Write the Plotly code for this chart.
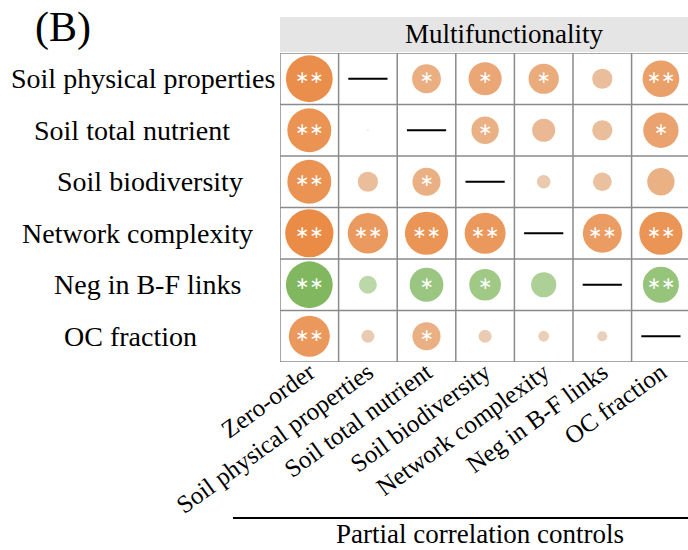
import plotly.graph_objects as go

# ---------------- data ----------------
rows = ["Soil physical properties", "Soil total nutrient", "Soil biodiversity",
        "Network complexity", "Neg in B-F links", "OC fraction"]
controls = ["Zero-order", "Soil physical properties", "Soil total nutrient",
            "Soil biodiversity", "Network complexity", "Neg in B-F links", "OC fraction"]

# correlation with multifunctionality (None = the variable itself is controlled)
r_soil_physical = [0.65, None, 0.40, 0.46, 0.42, 0.28, 0.51]
r_soil_nutrient = [0.61, 0.02, None, 0.38, 0.32, 0.28, 0.49]
r_soil_biodiv   = [0.61, 0.28, 0.39, None, 0.19, 0.26, 0.38]
r_network       = [0.67, 0.56, 0.60, 0.57, None, 0.54, 0.60]
r_neg_bf        = [-0.65, -0.25, -0.47, -0.44, -0.35, None, -0.50]
r_oc_fraction   = [0.57, 0.18, 0.39, 0.18, 0.15, 0.14, None]

sig_soil_physical = ["**", "", "*", "*", "*", "", "**"]
sig_soil_nutrient = ["**", "", "", "*", "", "", "*"]
sig_soil_biodiv   = ["**", "", "*", "", "", "", ""]
sig_network       = ["**", "**", "**", "**", "", "**", "**"]
sig_neg_bf        = ["**", "", "*", "*", "", "", "**"]
sig_oc_fraction   = ["**", "", "*", "", "", "", ""]

r_table = [r_soil_physical, r_soil_nutrient, r_soil_biodiv, r_network, r_neg_bf, r_oc_fraction]
sig_table = [sig_soil_physical, sig_soil_nutrient, sig_soil_biodiv, sig_network, sig_neg_bf, sig_oc_fraction]

# ---------------- styling ----------------
FONT = "Liberation Serif"
SIZE_SCALE = 72  # px diameter per unit |r|
POS_LIGHT, POS_DARK = (234, 212, 194), (234, 136, 64)
NEG_LIGHT, NEG_DARK = (209, 229, 197), (122, 179, 86)


def mix(c0, c1, t):
    t = max(0.0, min(1.0, t))
    return "rgb(%d,%d,%d)" % tuple(round(a + (b - a) * t) for a, b in zip(c0, c1))


def color_for(r):
    t = (abs(r) - 0.1) / 0.6
    return mix(POS_LIGHT, POS_DARK, t) if r >= 0 else mix(NEG_LIGHT, NEG_DARK, t)


cx, cy, sizes, colors = [], [], [], []
sx, sy, stext = [], [], []
dx, dy = [], []
for i, row in enumerate(r_table):
    for j, r in enumerate(row):
        if r is None:
            dx.append(j)
            dy.append(i)
            continue
        cx.append(j)
        cy.append(i)
        sizes.append(abs(r) * SIZE_SCALE)
        colors.append(color_for(r))
        s = sig_table[i][j]
        if s:
            sx.append(j)
            sy.append(i)
            stext.append("\u2217" * len(s))

fig = go.Figure()
fig.add_trace(go.Scatter(x=cx, y=cy, mode="markers",
                         marker=dict(size=sizes, color=colors, line=dict(width=0), opacity=1),
                         hoverinfo="skip", showlegend=False))
fig.add_trace(go.Scatter(x=sx, y=sy, mode="text", text=stext,
                         textfont=dict(family="DejaVu Sans", size=17, color="white"),
                         textposition="middle center", hoverinfo="skip", showlegend=False))
fig.add_trace(go.Scatter(x=dx, y=dy, mode="markers",
                         marker=dict(symbol="line-ew", size=28, line=dict(width=2.2, color="black")),
                         hoverinfo="skip", showlegend=False))

# ---------------- layout ----------------
W, H = 688, 550
L, R, T, B = 280, 0, 53, 188
pw, ph = W - L - R, H - T - B


def px_x(p):
    return (p - L) / pw


def px_y(p):
    return (H - B - p) / ph


shapes = []
grid_color = "#8a8a8a"
for k in range(len(controls) + 1):
    shapes.append(dict(type="line", xref="x", yref="y", x0=k - 0.5, x1=k - 0.5,
                       y0=-0.5, y1=len(rows) - 0.5, line=dict(color=grid_color, width=1.5)))
for k in range(len(rows) + 1):
    shapes.append(dict(type="line", xref="x", yref="y", y0=k - 0.5, y1=k - 0.5,
                       x0=-0.5, x1=len(controls) - 0.5, line=dict(color=grid_color, width=1.5)))
# header band
shapes.append(dict(type="rect", xref="paper", yref="paper", x0=0, x1=1.02,
                   y0=px_y(52), y1=px_y(17), fillcolor="#e5e5e5", line=dict(width=0), layer="below"))
# bottom line
shapes.append(dict(type="line", xref="paper", yref="paper", x0=px_x(233), x1=1.02,
                   y0=px_y(518), y1=px_y(518), line=dict(color="black", width=2)))

label_x_px = [143, 132, 150, 137, 147, 130]
annotations = []
for i, lab in enumerate(rows):
    annotations.append(dict(text=lab, xref="paper", yref="y", x=px_x(label_x_px[i]), y=i,
                            xanchor="center", yanchor="middle", showarrow=False,
                            font=dict(family=FONT, size=28, color="black")))
annotations.append(dict(text="Multifunctionality", xref="paper", yref="paper",
                        x=px_x(504), y=px_y(34), xanchor="center", yanchor="middle",
                        showarrow=False, font=dict(family=FONT, size=27, color="black")))
annotations.append(dict(text="(B)", xref="paper", yref="paper", x=px_x(63), y=px_y(28),
                        xanchor="center", yanchor="middle", showarrow=False,
                        font=dict(family=FONT, size=42, color="black")))
annotations.append(dict(text="Partial correlation controls", xref="paper", yref="paper",
                        x=px_x(480), y=px_y(534), xanchor="center", yanchor="middle",
                        showarrow=False, font=dict(family=FONT, size=27, color="black")))

fig.update_layout(
    width=W, height=H,
    margin=dict(l=L, r=R, t=T, b=B, pad=0),
    paper_bgcolor="white", plot_bgcolor="white",
    xaxis=dict(range=[-0.5, -0.5 + pw / 58.6], tickmode="array",
               tickvals=list(range(len(controls))), ticktext=controls,
               tickangle=-36, tickfont=dict(family=FONT, size=25, color="black"),
               showgrid=False, zeroline=False, showline=False, ticks="",
               ticklabelstandoff=-10, fixedrange=True),
    yaxis=dict(range=[len(rows) - 0.5, -0.5], showticklabels=False, showgrid=False,
               zeroline=False, showline=False, ticks="", fixedrange=True),
    shapes=shapes, annotations=annotations,
)

fig.write_html("out.html", config={"displayModeBar": False},
               post_script="document.body.style.margin='0';document.body.style.padding='0';")
